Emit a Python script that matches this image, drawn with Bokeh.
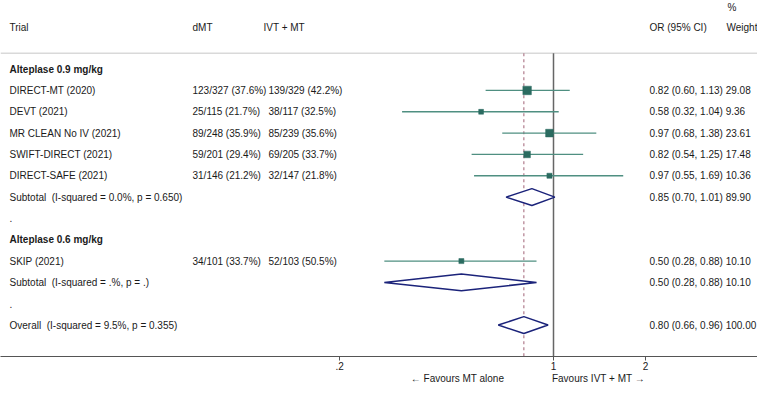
import math
from bokeh.plotting import figure
from bokeh.models import (Range1d, LogScale, LogAxis, LinearAxis, FixedTicker,
                          CustomJSTickFormatter, ColumnDataSource)
from bokeh.core.properties import value
from bokeh.embed import file_html
from bokeh.resources import INLINE

# ---------------- data ----------------
trials = ["DIRECT-MT (2020)", "DEVT (2021)", "MR CLEAN No IV (2021)",
          "SWIFT-DIRECT (2021)", "DIRECT-SAFE (2021)", "SKIP (2021)"]
dmt = ["123/327 (37.6%)", "25/115 (21.7%)", "89/248 (35.9%)",
       "59/201 (29.4%)", "31/146 (21.2%)", "34/101 (33.7%)"]
ivt_mt = ["139/329 (42.2%)", "38/117 (32.5%)", "85/239 (35.6%)",
          "69/205 (33.7%)", "32/147 (21.8%)", "52/103 (50.5%)"]
or_est = [0.82, 0.58, 0.97, 0.82, 0.97, 0.50]
or_lo = [0.60, 0.32, 0.68, 0.54, 0.55, 0.28]
or_hi = [1.13, 1.04, 1.38, 1.25, 1.69, 0.88]
weights = [29.08, 9.36, 23.61, 17.48, 10.36, 10.10]
trial_group = [0, 0, 0, 0, 0, 1]

groups = ["Alteplase 0.9 mg/kg", "Alteplase 0.6 mg/kg"]
sub_labels = ["Subtotal\u00a0 (I-squared = 0.0%, p = 0.650)",
              "Subtotal\u00a0 (I-squared = .%, p = .)"]
sub_est = [0.85, 0.50]
sub_lo = [0.70, 0.28]
sub_hi = [1.01, 0.88]
sub_weight = ["89.90", "10.10"]

overall_label = "Overall\u00a0 (I-squared = 9.5%, p = 0.355)"
overall_est = 0.80
overall_lo = 0.66
overall_hi = 0.96
overall_weight = "100.00"

tick_values = [0.2, 1, 2]
favour_left = "\u2190 Favours MT alone"
favour_right = "Favours IVT + MT \u2192"

# ---------------- layout ----------------
W, H = 757, 386
FRAME_H = 358
X_ONE = 553.0      # pixel of OR = 1
DEC = 306.0        # pixels per decade
ROW0, STEP = 69.0, 21.45
SEP_Y = 53
FONT = value("Liberation Sans")
FS = "10px"
TXT = "#1a1a1a"

X_TRIAL, X_DMT, X_IVT_H, X_IVT, X_OR, X_W = 9, 192, 263, 268, 649, 726


def ry(i):
    return ROW0 + STEP * i


def fmt_or(e, lo, hi, w):
    return f"{e:.2f} ({lo:.2f}, {hi:.2f}) {w}"


# build row table
rows_trial = []
bold_rows = []
sub_rows = []
dot_rows = []
r = 0
for g, gname in enumerate(groups):
    bold_rows.append((r, gname))
    r += 1
    for t in range(len(trials)):
        if trial_group[t] == g:
            rows_trial.append((r, t))
            r += 1
    sub_rows.append((r, g))
    r += 1
    dot_rows.append(r)
    r += 1
overall_row = r

p = figure(width=W, height=H, x_range=Range1d(0, W),
           y_range=Range1d(FRAME_H, 0), output_backend="svg",
           toolbar_location=None, x_axis_location=None,
           y_axis_location=None, min_border=0)
p.min_border_bottom = H - FRAME_H
p.outline_line_color = None
p.grid.visible = False
p.background_fill_color = "white"
p.border_fill_color = "white"

p.extra_x_ranges = {"or": Range1d(10 ** (-X_ONE / DEC), 10 ** ((W - X_ONE) / DEC))}
p.extra_x_scales = {"or": LogScale()}

# separator line
p.segment(x0=[0], x1=[W], y0=[SEP_Y], y1=[SEP_Y], line_color="#d9d9d9", line_width=1.5)

# reference line at 1 and dashed overall line
p.segment(x0=[1], x1=[1], y0=[SEP_Y], y1=[FRAME_H], x_range_name="or",
          line_color="#666666", line_width=1.5)
p.segment(x0=[overall_est], x1=[overall_est], y0=[SEP_Y], y1=[FRAME_H], x_range_name="or",
          line_color="#b07c8c", line_width=1.2, line_dash="3 3")

# CI lines and squares
ti = [t for rw, t in rows_trial]
ci_src = ColumnDataSource(dict(
    y=[ry(rw) for rw, t in rows_trial],
    est=[or_est[t] for t in ti], lo=[or_lo[t] for t in ti],
    hi=[or_hi[t] for t in ti],
    size=[1.58 * math.sqrt(weights[t]) for t in ti]))
p.segment(x0="lo", x1="hi", y0="y", y1="y", source=ci_src, x_range_name="or",
          line_color="#4f8f81", line_width=1.3)
p.scatter(x="est", y="y", size="size", marker="square", source=ci_src,
          x_range_name="or", fill_color="#2b6b60", line_color="#2b6b60", line_width=0.5)

# diamonds
D = 8.5
dxs, dys = [], []
for rw, g in sub_rows:
    y = ry(rw)
    dxs.append([sub_lo[g], sub_est[g], sub_hi[g], sub_est[g]])
    dys.append([y, y - D, y, y + D])
y = ry(overall_row)
dxs.append([overall_lo, overall_est, overall_hi, overall_est])
dys.append([y, y - D, y, y + D])
p.patches(xs=dxs, ys=dys, x_range_name="or", fill_color="white",
          line_color="#1b237a", line_width=1.5)

# ---------------- texts ----------------
tx, tyy, tt = [], [], []


def add(x, y, s):
    tx.append(x); tyy.append(y); tt.append(s)


add(X_TRIAL, 27, "Trial")
add(X_DMT, 27, "dMT")
add(X_IVT_H, 27, "IVT + MT")
add(X_OR, 27, "OR (95% CI)")
add(X_W, 27, "Weight")
add(X_W + 1, 7, "%")

for rw, t in rows_trial:
    y = ry(rw)
    add(X_TRIAL, y, trials[t])
    add(X_DMT, y, dmt[t])
    add(X_IVT, y, ivt_mt[t])
    add(X_OR, y, fmt_or(or_est[t], or_lo[t], or_hi[t], f"{weights[t]:.2f}"))
for rw, g in sub_rows:
    y = ry(rw)
    add(X_TRIAL, y, sub_labels[g])
    add(X_OR, y, fmt_or(sub_est[g], sub_lo[g], sub_hi[g], sub_weight[g]))
for rw in dot_rows:
    add(X_TRIAL, ry(rw), ".")
add(X_TRIAL, ry(overall_row), overall_label)
add(X_OR, ry(overall_row), fmt_or(overall_est, overall_lo, overall_hi, overall_weight))

p.text(x=tx, y=tyy, text=tt, text_font=FONT, text_font_size=FS,
       text_color=TXT, text_baseline="middle", text_align="left")

p.text(x=[X_TRIAL] * len(bold_rows), y=[ry(rw) for rw, s in bold_rows],
       text=[s for rw, s in bold_rows], text_font=FONT, text_font_size=FS,
       text_font_style="bold", text_color=TXT, text_baseline="middle",
       text_align="left")

# ---------------- axes ----------------
ax = LogAxis(x_range_name="or",
             ticker=FixedTicker(ticks=tick_values, minor_ticks=[]),
             formatter=CustomJSTickFormatter(
                 code="return tick < 1 ? String(tick).replace(/^0/, '') : String(tick);"))
ax.axis_line_color = "#555555"
ax.axis_line_width = 1.2
ax.major_tick_line_color = "#555555"
ax.major_tick_in = 0
ax.major_tick_out = 4
ax.minor_tick_in = 0
ax.minor_tick_out = 0
ax.major_label_standoff = 1
ax.major_label_text_font = "Liberation Sans"
ax.major_label_text_font_size = FS
ax.major_label_text_color = TXT
p.add_layout(ax, "below")

# second axis row carrying the "favours" captions under the plot
fav = LinearAxis(ticker=FixedTicker(ticks=[X_ONE - 96, X_ONE + 45], minor_ticks=[]),
                 formatter=CustomJSTickFormatter(
                     args=dict(l=favour_left, r=favour_right),
                     code="return index == 0 ? l : r;"))
fav.axis_line_color = None
fav.major_tick_line_color = None
fav.major_tick_in = 0
fav.major_tick_out = 0
fav.minor_tick_out = 0
fav.major_label_standoff = 0
fav.major_label_text_font = "Liberation Sans"
fav.major_label_text_font_size = FS
fav.major_label_text_color = TXT
p.add_layout(fav, "below")

open("out.html", "w").write(file_html(p, INLINE))
